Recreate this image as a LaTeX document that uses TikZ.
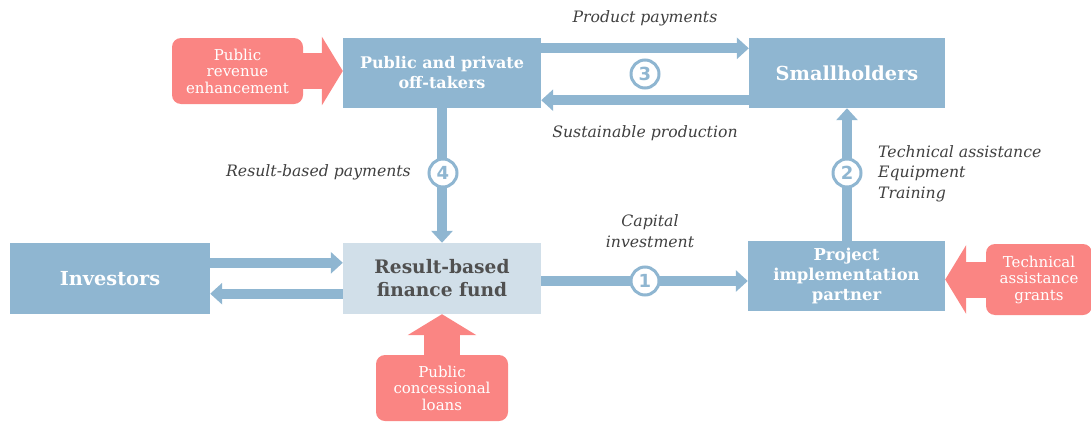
\documentclass[tikz,border=0pt]{standalone}
\usepackage{fontspec}
\setmainfont{DejaVu Serif}
\newfontfamily\numfont{DejaVu Sans}
\usetikzlibrary{arrows.meta,calc}
\definecolor{bblue}{HTML}{8FB6D1}
\definecolor{lblue}{HTML}{D1DFE9}
\definecolor{pinkc}{HTML}{FA8583}
\definecolor{tgray}{HTML}{404040}
\definecolor{dgray}{HTML}{505050}
\tikzset{
  bluebox/.style={fill=bblue, inner sep=0pt, text=white, align=center, font=\fontsize{16}{20}\selectfont\bfseries},
  lightbox/.style={fill=lblue, inner sep=0pt, text=dgray, align=center, font=\fontsize{18.6}{23}\selectfont\bfseries},
  pinkbox/.style={fill=pinkc, rounded corners=9pt, inner sep=0pt, text=white, align=center, font=\fontsize{15}{16.5}\selectfont},
  flow/.style={draw=bblue, line width=10pt, -{Triangle[width=21pt,length=12pt]}},
  fatflow/.style={draw=pinkc, line width=36pt, -{Triangle[width=68pt,length=21pt]}},
  numc/.style={circle, draw=bblue, fill=white, line width=3pt, minimum size=28pt, inner sep=0pt, text=bblue, font=\numfont\fontsize{18}{18}\selectfont\bfseries},
  lbl/.style={text=tgray, font=\fontsize{15.7}{20.5}\selectfont\itshape, inner sep=0pt},
}
\begin{document}
\begin{tikzpicture}[x=1pt,y=-1pt]
\useasboundingbox (0,0) rectangle (1091,423);
% boxes
\node[bluebox, minimum width=198pt, minimum height=70pt] (off) at (442,73) {Public and private\\off-takers};
\node[bluebox, minimum width=196pt, minimum height=70pt, font=\fontsize{19.3}{22}\selectfont\bfseries] (small) at (847,73) {Smallholders};
\node[lightbox, minimum width=198pt, minimum height=71pt] (rbf) at (442,278.5) {Result-based\\finance fund};
\node[bluebox, minimum width=200pt, minimum height=71pt, font=\fontsize{19.3}{22}\selectfont\bfseries] (inv) at (110,278.5) {Investors};
\node[bluebox, minimum width=197pt, minimum height=70pt, font=\fontsize{16.4}{20}\selectfont\bfseries] (pip) at (846.5,276) {Project\\implementation\\partner};
\node[pinkbox, minimum width=106pt, minimum height=71pt] (tag) at (1039,279.5) {Technical\\assistance\\grants};
\node[pinkbox, minimum width=131pt, minimum height=66pt] (pre) at (237.5,71) {Public\\revenue\\enhancement};
\node[pinkbox, minimum width=132pt, minimum height=66pt] (pcl) at (442,388) {Public\\concessional\\loans};
% pink arrows
\draw[fatflow] (pre.east) -- (pre.east -| off.west);
\draw[fatflow] (tag.west) -- (tag.west -| pip.east);
\draw[fatflow] (pcl.north) -- (rbf.south);
% blue arrows
\draw[flow] ([yshift=-10.5pt]off.north east) -- ([yshift=-10.5pt]small.north west);
\draw[flow] ([yshift=8pt]small.south west) -- ([yshift=8pt]off.south east);
\draw[flow] (off.south) -- (rbf.north);
\draw[flow] ([yshift=-20pt]inv.north east) -- ([yshift=-20pt]rbf.north west);
\draw[flow] ([yshift=20.5pt]rbf.south west) -- ([yshift=20.5pt]inv.south east);
\draw[flow] ([yshift=-2.5pt]rbf.east) -- ([yshift=-2.5pt]rbf.east -| pip.west);
\draw[flow] (pip.north -| small.south) -- (small.south);
% number circles
\node[numc] (n3) at (645,74) {3};
\node[numc] (n4) at (443,173) {4};
\node[numc] (n1) at (645,281) {1};
\node[numc] (n2) at (847,173) {2};
% labels
\node[lbl] (lpp) at (645,18) {Product payments};
\node[lbl] (lsp) at (645,133) {Sustainable production};
\node[lbl, anchor=east] (lrb) at (411,172) {Result-based payments};
\node[lbl, align=center] (lci) at (650,231) {Capital\\investment};
\node[lbl, align=left, anchor=north west] (lta) at (878,145) {Technical assistance\\Equipment\\Training};
\end{tikzpicture}
\end{document}
